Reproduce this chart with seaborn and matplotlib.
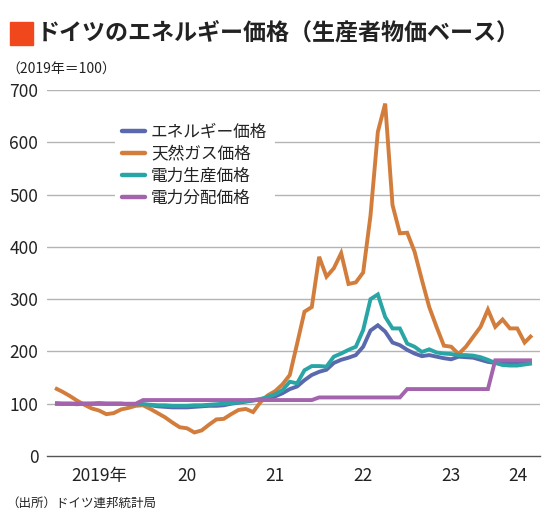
import numpy as np
import pandas as pd
import matplotlib
matplotlib.use("Agg")
import matplotlib.pyplot as plt
from matplotlib.lines import Line2D
from matplotlib.patches import Rectangle
import seaborn as sns

# ---- data (monthly, Jan 2019 - Jun 2024, 2019 = 100) ----
months = pd.date_range("2019-01-01", "2024-06-01", freq="MS")

energy = [101, 100, 100, 99, 100, 100, 101, 100, 100, 100, 99, 99,
          99, 97, 95, 94, 93, 93, 93, 94, 95, 96, 96, 97,
          100, 102, 104, 106, 108, 111, 114, 120, 128, 133, 145, 155,
          161, 165, 178, 184, 188, 193, 209, 240, 250, 238, 217, 212,
          203, 196, 191, 193, 190, 187, 185, 190, 189, 188, 184, 180,
          178, 177, 177, 177, 177, 178]

gas = [130, 123, 115, 106, 98, 91, 87, 80, 82, 89, 92, 96,
       97, 90, 82, 74, 64, 55, 53, 45, 49, 60, 70, 71,
       80, 88, 90, 84, 103, 116, 124, 137, 155, 215, 276, 285,
       381, 343, 359, 388, 329, 332, 351, 460, 620, 674, 480, 426,
       427, 391, 337, 285, 247, 211, 209, 195, 209, 228, 247, 280,
       247, 261, 244, 244, 217, 231]

power_prod = [100, 100, 100, 100, 100, 100, 100, 100, 100, 100, 99, 99,
              99, 98, 97, 97, 96, 96, 96, 97, 97, 98, 99, 100,
              101, 103, 105, 107, 109, 113, 118, 126, 142, 139, 164, 172,
              172, 171, 190, 196, 203, 209, 241, 300, 309, 266, 244, 244,
              215, 209, 199, 204, 198, 196, 195, 193, 193, 192, 189, 184,
              178, 174, 173, 173, 175, 177]

power_dist = [100] * 12 + [107] * 24 + [112] * 12 + [128] * 12 + [183] * 6

series_names = ["エネルギー価格", "天然ガス価格", "電力生産価格", "電力分配価格"]
series_colors = ["#5a69ad", "#d27d3c", "#2aa5a6", "#a463ad"]

year_labels = ["2019年", "20", "21", "22", "23", "24"]
y_ticks = [0, 100, 200, 300, 400, 500, 600, 700]

# ---- long table for seaborn ----
idx = np.arange(len(months))
df = pd.concat([
    pd.DataFrame({"i": idx, "value": vals, "series": name})
    for name, vals in zip(series_names, [energy, gas, power_prod, power_dist])
], ignore_index=True)

# ---- style ----
sns.set_style("white")
plt.rcParams["font.family"] = ["Noto Sans CJK JP", "DejaVu Sans"]

W, H = 550, 530
fig = plt.figure(figsize=(W / 100, H / 100), dpi=100)
ax_l, ax_r, ax_t, ax_b = 46.7, 540, 90, 456
ax = fig.add_axes([ax_l / W, 1 - ax_b / H, (ax_r - ax_l) / W, (ax_b - ax_t) / H])

sns.lineplot(data=df, x="i", y="value", hue="series", hue_order=series_names,
             palette=dict(zip(series_names, series_colors)), linewidth=2.8,
             legend=False, ax=ax, zorder=3)
for ln in ax.lines:
    ln.set_solid_capstyle("butt")
    ln.set_solid_joinstyle("miter")

ax.set_xlim(-1.13, 66.1)
ax.set_ylim(0, 700)
ax.set_xlabel("")
ax.set_ylabel("")

# grid
for v in y_ticks[1:]:
    ax.axhline(v, color="#b4b4b4", lw=1.0, zorder=1)

for s in ["top", "right", "left"]:
    ax.spines[s].set_visible(False)
ax.spines["bottom"].set_color("#555555")
ax.spines["bottom"].set_linewidth(1.0)

ax.set_yticks(y_ticks)
ax.set_yticklabels([str(v) for v in y_ticks])
ax.tick_params(axis="y", length=0, pad=6, labelsize=12.5, labelcolor="#222222")

# x: ticks at year boundaries, labels centered in each year
ax.set_xticks([0, 12, 24, 36, 48, 60])
ax.set_xticklabels([])
ax.tick_params(axis="x", which="major", length=9, width=1.0, color="#555555", direction="out")
label_pos = [6, 18, 30, 42, 54, (60 + 66.1) / 2]
ax.set_xticks(label_pos, minor=True)
ax.set_xticklabels(year_labels, minor=True)
ax.tick_params(axis="x", which="minor", length=0, pad=8, labelsize=12.5, labelcolor="#222222")

# legend
handles = [Line2D([0], [0], color=c, lw=3.2) for c in series_colors]
leg = ax.legend(handles, series_names, loc="upper left",
                bbox_to_anchor=(115 / W, 1 - 116 / H), bbox_transform=fig.transFigure,
                frameon=True, fancybox=False, framealpha=1.0, edgecolor="none",
                facecolor="white", fontsize=12, handlelength=1.35, handletextpad=0.35,
                labelspacing=0.3, borderpad=0.45, borderaxespad=0)
leg.set_zorder(5)
for t in leg.get_texts():
    t.set_color("#222222")

# title
fig.patches.append(Rectangle((10 / W, 1 - 45 / H), 23 / W, 23 / H,
                             transform=fig.transFigure, color="#f0481c"))
fig.text(37 / W, 1 - 33 / H, "ドイツのエネルギー価格（生産者物価ベース）",
         fontsize=16.6, fontweight="bold", color="#222222", va="center", ha="left")
fig.text(6 / W, 1 - 70 / H, "（2019年＝100）", fontsize=10, color="#222222",
         va="center", ha="left")
fig.text(6 / W, 1 - 503 / H, "（出所）ドイツ連邦統計局", fontsize=9, color="#222222",
         va="center", ha="left")

fig.savefig("out.png", dpi=100)
